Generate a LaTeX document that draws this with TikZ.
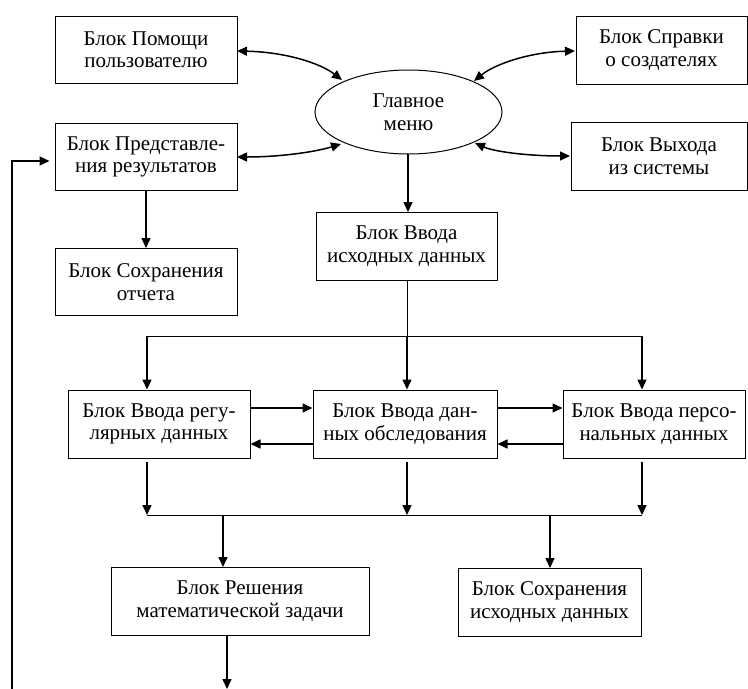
\documentclass[tikz,border=0pt]{standalone}
\usepackage{fontspec}
\setmainfont{Liberation Serif}
\usetikzlibrary{arrows.meta,shapes.geometric}
\begin{document}
\begin{tikzpicture}[x=1pt,y=-1pt,
  blk/.style={draw,line width=1pt,rectangle,minimum height=67pt,align=center,inner sep=0pt,font=\fontsize{21}{22.5}\selectfont},
  arr/.style={line width=1.5pt,-{Triangle[length=10pt,width=9pt]}},
  darr/.style={line width=1.5pt,{Triangle[length=10pt,width=9pt]}-{Triangle[length=10pt,width=9pt]}},
  ln/.style={line width=1pt}]
\useasboundingbox (0,0) rectangle (748,689);
\node[blk,minimum width=182pt] (help) at (146,49.5) {Блок Помощи\\пользователю};
\node[blk,minimum width=182pt] (pres) at (146,157) {Блок Представле-\\ния результатов};
\node[blk,minimum width=182pt] (saverep) at (146,282) {Блок Сохранения\\отчета};
\node[draw,line width=1pt,ellipse,minimum width=187pt,minimum height=84pt,inner sep=0pt,align=center,font=\fontsize{21}{22.5}\selectfont] (menu) at (408.5,112) {Главное\\меню};
\node[blk,minimum width=171pt,minimum height=68pt] (about) at (661.5,50) {Блок Справки\\о создателях};
\node[blk,minimum width=176pt,minimum height=68pt] (exit) at (659,156) {Блок Выхода\\из системы};
\node[blk,minimum width=181pt,minimum height=68pt] (input) at (406.5,246) {Блок Ввода\\исходных данных};
\node[blk,minimum width=182pt,minimum height=68pt] (reg) at (159,424) {Блок Ввода регу-\\лярных данных};
\node[blk,minimum width=184pt,minimum height=68pt] (exam) at (405,424) {Блок Ввода дан-\\ных обследования};
\node[blk,minimum width=182pt,minimum height=68pt] (pers) at (654,424) {Блок Ввода персо-\\нальных данных};
\node[blk,minimum width=258pt,minimum height=68pt] (solve) at (240,601) {Блок Решения\\математической задачи};
\node[blk,minimum width=183pt,minimum height=68pt] (savein) at (549.5,602) {Блок Сохранения\\исходных данных};

% curved two-headed arrows to the menu
\coordinate (h1) at (237,51); \coordinate (h2) at (342,80);
\draw[darr] (h1) .. controls (285,52) and (320,63) .. (h2);
\coordinate (p1) at (237,157); \coordinate (p2) at (341,144);
\draw[darr] (p1) .. controls (280,157) and (315,152) .. (p2);
\coordinate (a1) at (575,51); \coordinate (a2) at (474,81);
\draw[darr] (a1) .. controls (530,52) and (495,64) .. (a2);
\coordinate (e1) at (570,156); \coordinate (e2) at (475,143);
\draw[darr] (e1) .. controls (530,156) and (495,152) .. (e2);

% menu -> input
\draw[arr] (408,154) -- (408,212);
% pres -> saverep
\draw[arr] (146,190.5) -- (saverep.north);

% input to the three entry blocks
\coordinate (s1) at (407,336);
\coordinate (sL) at (147,336);
\coordinate (sR) at (642,336);
\draw[ln] (input.south -| s1) -- (s1);
\draw[ln] (sL) -- (sR);
\draw[arr] (sL) -- (sL |- reg.north);
\draw[arr] (s1) -- (s1 |- exam.north);
\draw[arr] (sR) -- (sR |- pers.north);

% horizontal arrows between entry blocks
\draw[arr] (reg.east |- 0,408) -- (exam.west |- 0,408);
\draw[arr] (exam.west |- 0,444) -- (reg.east |- 0,444);
\draw[arr] (exam.east |- 0,408) -- (pers.west |- 0,408);
\draw[arr] (pers.west |- 0,444) -- (exam.east |- 0,444);

% from entry blocks down to collector
\coordinate (cL) at (147,515);
\coordinate (cM) at (407,515);
\coordinate (cR) at (642,515);
\draw[arr] (147,462) -- (cL);
\draw[arr] (407,462) -- (cM);
\draw[arr] (642,462) -- (cR);
\draw[ln] (cL) -- (cR);
\draw[arr] (223,515) -- (223,567);
\draw[arr] (550,515) -- (550,568);

% solve down
\coordinate (bot) at (227,689);
\draw[arr] (solve.south -| bot) -- (bot);

% feedback line
\coordinate (f1) at (12,689);
\coordinate (f2) at (12,161);
\draw[line width=1.5pt,-{Triangle[length=10pt,width=9pt]}] (f1) -- (f2) -- ([xshift=-5pt]pres.west |- f2);
\end{tikzpicture}
\end{document}
